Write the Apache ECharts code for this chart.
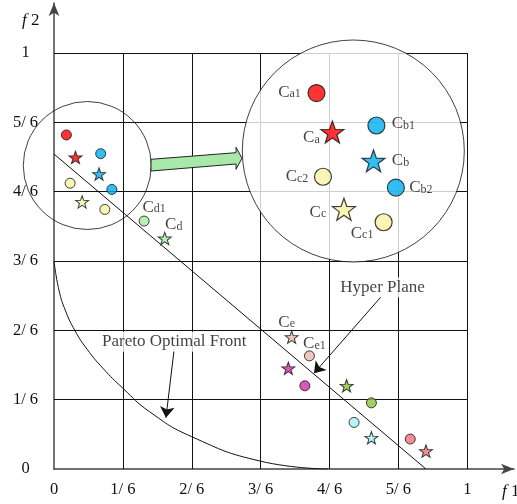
<!DOCTYPE html>
<html>
<head>
<meta charset="utf-8">
<script src="https://cdn.jsdelivr.net/npm/echarts@6/dist/echarts.min.js"></script>
<style>
html,body{margin:0;padding:0;background:#fff;}
#c{width:517px;height:504px;}
</style>
</head>
<body>
<div id="c"></div>
<script>
// ---------- data ----------
const tickLabels = ['0', '1/ 6', '2/ 6', '3/ 6', '4/ 6', '5/ 6', '1'];

const circlePoints = [[0.030,0.803],[0.113,0.758],[0.140,0.672],[0.039,0.687],[0.123,0.624],
                      [0.218,0.596],[0.618,0.272],[0.607,0.200],[0.768,0.159],[0.726,0.112],[0.862,0.072]];
const circleGroups = ['a','b','b','c','c','d','e','f','g','h','i'];
const circleNames  = ['Ca1','Cb1','Cb2','Cc2','Cc1','Cd1','Ce1','','','',''];

const starPoints = [[0.052,0.749],[0.109,0.709],[0.068,0.642],[0.268,0.554],[0.575,0.317],
                    [0.567,0.242],[0.708,0.200],[0.768,0.075],[0.900,0.043]];
const starGroups = ['a','b','c','d','e','f','g','h','i'];
const starNames  = ['Ca','Cb','Cc','Cd','Ce','','','',''];

const insetGroups = ['a','b','c'];     // clusters shown magnified
const mainLabelGroups = ['d','e'];     // clusters labelled in main view

const hyperPlane = [[0, 0.757], [0.900, 0]];
const paretoFront = [[0,0.5],[0.012,0.43],[0.028,0.38],[0.0505,0.333],[0.080,0.288],[0.1185,0.242],
                     [0.1667,0.194],[0.2308,0.138],[0.3325,0.078],[0.499,0.019],[0.663,0]];

const zoomCenter = [0.0805, 0.7296];
const insetCenter = [0.081, 0.7227];

const annotationTexts = ['Hyper Plane', 'Pareto Optimal Front'];
const annotationAt    = [[0.795, 0.437], [0.291, 0.306]];
const annotationFrom  = [[0.7916, 0.4142], [0.2909, 0.2892]];
const annotationTo    = [[0.629, 0.230], [0.2709, 0.1233]];

// ---------- styles / layout ----------
const groupColors = {a:'#ff0000', b:'#00aeef', c:'#f8f4a2', d:'#aaeca2', e:'#ecb8b0',
                     f:'#d02ea8', g:'#8cc63f', h:'#a8f2f4', i:'#f0707a'};
const labelOffsets = {
  Ca1:[-27,-1], Ca:[-21,6], Cb1:[27,-2], Cb:[27,0], Cb2:[25,0],
  Cc2:[-26,0], Cc:[-26,3], Cc1:[-21.5,11],
  Cd1:[10,-14], Cd:[9,-14], Ce:[-5,-15], Ce1:[5,-12]
};
const FF = '"Liberation Serif","Times New Roman",serif';
const STAR = 'path://M50 0 L61.76 33.82 L97.55 34.55 L69.02 56.18 L79.39 90.45 L50 70 L20.61 90.45 L30.98 56.18 L2.45 34.55 L38.24 33.82 Z';
const insetHalf = 0.1538;

const richC = {
  m:{fontSize:17, fontFamily:FF, color:'#111', verticalAlign:'middle'},
  s:{fontSize:12, fontFamily:FF, color:'#111', verticalAlign:'middle', padding:[4,0,0,0]}
};
function cLabel(name){
  return {show:true, position:'inside', offset:labelOffsets[name],
          formatter:'{m|C}{s|' + name.slice(1) + '}', rich:richC};
}
function buildItems(points, groups, names, filterGroups, labelGroups){
  const out = [];
  points.forEach((p, i) => {
    if (filterGroups && filterGroups.indexOf(groups[i]) < 0) return;
    const it = {value:p, itemStyle:{color:groupColors[groups[i]]}};
    if (names[i] && labelGroups.indexOf(groups[i]) >= 0) it.label = cLabel(names[i]);
    out.push(it);
  });
  return out;
}

// grid lines from tick labels
const gridLineData = [];
for (let i = 1; i < tickLabels.length; i++) {
  const v = i / (tickLabels.length - 1);
  gridLineData.push({coords:[[v,0],[v,1]]});
  gridLineData.push({coords:[[0,v],[1,v]]});
}

const chart = echarts.init(document.getElementById('c'), null, {renderer:'canvas'});
const tickFmt = v => (v > 1.001 ? '' : tickLabels[Math.round(v * 6)]);

const option = {
  animation:false,
  backgroundColor:'#ffffff',
  grid:[
    {left:54, top:3, width:463, height:466, containLabel:false},
    {left:242.3, top:40, width:222, height:222, containLabel:false}
  ],
  xAxis:[
    {gridIndex:0, type:'value', min:0, max:1.113, interval:1/6,
     axisLine:{show:true, onZero:false, lineStyle:{color:'#444', width:1.5}, symbol:['none','arrow'], symbolSize:[8,13]},
     axisTick:{show:false}, splitLine:{show:false},
     axisLabel:{formatter:tickFmt, margin:12, fontSize:16.5, fontFamily:FF, color:'#111', showMaxLabel:true, showMinLabel:true}},
    {gridIndex:1, type:'value', min:insetCenter[0]-insetHalf, max:insetCenter[0]+insetHalf, show:false}
  ],
  yAxis:[
    {gridIndex:0, type:'value', min:0, max:1.1202, interval:1/6,
     axisLine:{show:true, onZero:false, lineStyle:{color:'#444', width:1.5}, symbol:['none','arrow'], symbolSize:[8,13]},
     axisTick:{show:false}, splitLine:{show:false},
     axisLabel:{formatter:tickFmt, margin:28.5, align:'center', fontSize:16.5, fontFamily:FF, color:'#111'}},
    {gridIndex:1, type:'value', min:insetCenter[1]-insetHalf, max:insetCenter[1]+insetHalf, show:false}
  ],
  series:[
    {type:'lines', coordinateSystem:'cartesian2d', xAxisIndex:0, yAxisIndex:0, z:1, silent:true,
     data:gridLineData, lineStyle:{color:'#111', width:1, opacity:1}},
    {type:'scatter', xAxisIndex:0, yAxisIndex:0, z:2, silent:true, data:[zoomCenter], symbolSize:128,
     itemStyle:{color:'rgba(0,0,0,0)', borderColor:'#111', borderWidth:1}},
    {type:'line', xAxisIndex:0, yAxisIndex:0, z:2, data:hyperPlane, symbol:'none',
     lineStyle:{color:'#111', width:1}},
    {type:'line', xAxisIndex:0, yAxisIndex:0, z:2, data:paretoFront, symbol:'none', smooth:0.5,
     lineStyle:{color:'#111', width:1}},
    {type:'scatter', xAxisIndex:0, yAxisIndex:0, z:5, symbol:'circle', symbolSize:10,
     data:buildItems(circlePoints, circleGroups, circleNames, null, mainLabelGroups),
     itemStyle:{borderColor:'#111', borderWidth:1}},
    {type:'scatter', xAxisIndex:0, yAxisIndex:0, z:5, symbol:STAR, symbolSize:[13,12.4],
     data:buildItems(starPoints, starGroups, starNames, null, mainLabelGroups),
     itemStyle:{borderColor:'#111', borderWidth:1}},
    {type:'lines', coordinateSystem:'cartesian2d', xAxisIndex:0, yAxisIndex:0, z:5, silent:true,
     symbol:['none','arrow'], symbolSize:[0,11],
     data:annotationFrom.map((f,i)=>({coords:[f, annotationTo[i]]})),
     lineStyle:{color:'#111', width:1, opacity:1}},
    {type:'scatter', xAxisIndex:0, yAxisIndex:0, z:6, symbolSize:0, silent:true,
     data:annotationAt.map((p,i)=>({value:p, name:annotationTexts[i]})),
     label:{show:true, position:'inside', formatter:'{b}', fontSize:17, fontFamily:FF, color:'#111',
            backgroundColor:'#ffffff', padding:[2,2,1,2]}},
    // inset
    {type:'scatter', xAxisIndex:1, yAxisIndex:1, z:3, silent:true, data:[insetCenter], symbolSize:222,
     itemStyle:{color:'#ffffff', borderColor:'#111', borderWidth:1}},
    {type:'scatter', xAxisIndex:1, yAxisIndex:1, z:7, symbol:'circle', symbolSize:17,
     data:buildItems(circlePoints, circleGroups, circleNames, insetGroups, insetGroups),
     itemStyle:{borderColor:'#111', borderWidth:1.2}},
    {type:'scatter', xAxisIndex:1, yAxisIndex:1, z:7, symbol:STAR, symbolSize:[23,21.9],
     data:buildItems(starPoints, starGroups, starNames, insetGroups, insetGroups),
     itemStyle:{borderColor:'#111', borderWidth:1.2}}
  ],
  graphic:[
    {type:'polygon', z:100, silent:true,
     shape:{points:[[151,159.3],[236,152.7],[236,147.3],[242,158.3],[236,169.3],[236,164],[151,171]]},
     style:{fill:'#a8e8a8', stroke:'#222', lineWidth:1}},
    {type:'text', z:100, left:22, top:12,
     style:{text:'{i|f} 2', font:'17px ' + FF, fill:'#111',
            rich:{i:{fontStyle:'italic', fontSize:17, fontFamily:FF}}}},
    {type:'text', z:100, left:502, top:483,
     style:{text:'{i|f} 1', font:'17px ' + FF, fill:'#111',
            rich:{i:{fontStyle:'italic', fontSize:17, fontFamily:FF}}}}
  ]
};
chart.setOption(option);
</script>
</body>
</html>
